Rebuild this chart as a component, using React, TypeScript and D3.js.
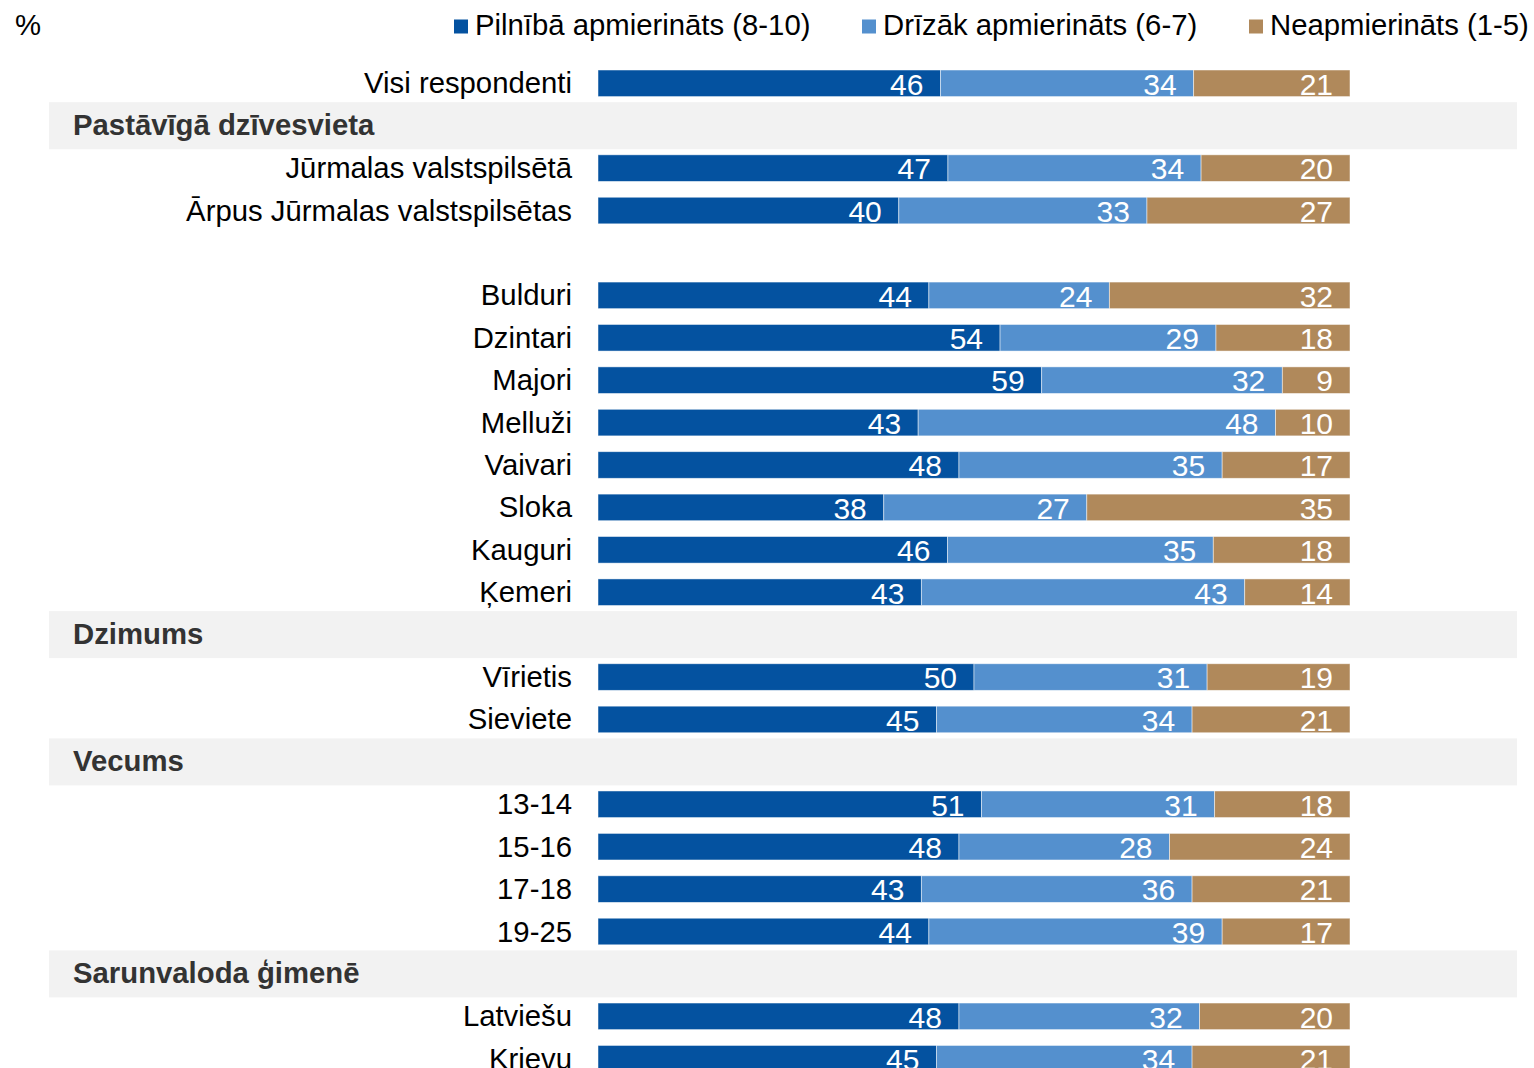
import React from "react";
import * as d3 from "d3";

const rowLabels = [
  "Visi respondenti",
  "Pastāvīgā dzīvesvieta",
  "Jūrmalas valstspilsētā",
  "Ārpus Jūrmalas valstspilsētas",
  "",
  "Bulduri",
  "Dzintari",
  "Majori",
  "Melluži",
  "Vaivari",
  "Sloka",
  "Kauguri",
  "Ķemeri",
  "Dzimums",
  "Vīrietis",
  "Sieviete",
  "Vecums",
  "13-14",
  "15-16",
  "17-18",
  "19-25",
  "Sarunvaloda ģimenē",
  "Latviešu",
  "Krievu",
];

const rowKinds = [
  "bar", "header", "bar", "bar", "blank", "bar", "bar", "bar", "bar", "bar", "bar", "bar", "bar",
  "header", "bar", "bar", "header", "bar", "bar", "bar", "bar", "header", "bar", "bar",
];

const fullySatisfied = [46, null, 47, 40, null, 44, 54, 59, 43, 48, 38, 46, 43, null, 50, 45, null, 51, 48, 43, 44, null, 48, 45];
const ratherSatisfied = [34, null, 34, 33, null, 24, 29, 32, 48, 35, 27, 35, 43, null, 31, 34, null, 31, 28, 36, 39, null, 32, 34];
const dissatisfied = [21, null, 20, 27, null, 32, 18, 9, 10, 17, 35, 18, 14, null, 19, 21, null, 18, 24, 21, 17, null, 20, 21];

const seriesNames = ["Pilnībā apmierināts (8-10)", "Drīzāk apmierināts (6-7)", "Neapmierināts (1-5)"];
const seriesColors = ["#0452A0", "#5490CE", "#B0895B"];

const FONT = "'Liberation Sans', Arial, Helvetica, sans-serif";
const FS = 29.3;

export default function App() {
  const width = 1534;
  const height = 1068;

  const y = d3
    .scaleBand<number>()
    .domain(d3.range(rowLabels.length))
    .range([62.1, 62.1 + 24 * 42.41])
    .paddingInner(0.373)
    .paddingOuter(0.1865);

  const x = d3.scaleLinear().domain([0, 1]).range([598, 1350]);

  const series = [fullySatisfied, ratherSatisfied, dissatisfied];
  const legendX = [454, 862, 1249];

  return (
    <svg
      width={width}
      height={height}
      style={{ position: "absolute", left: 0, top: 0, background: "#fff" }}
      fontFamily={FONT}
    >
      <text x={15} y={35} fontSize={FS} fill="#000">%</text>
      {seriesNames.map((name, i) => (
        <g key={name}>
          <rect x={legendX[i]} y={19.5} width={14} height={14} fill={seriesColors[i]} />
          <text x={legendX[i] + 21} y={35} fontSize={FS} fill="#000">{name}</text>
        </g>
      ))}
      {rowLabels.map((label, i) => {
        const kind = rowKinds[i];
        const top = y(i)!;
        const bw = y.bandwidth();
        const cy = top + bw / 2;
        if (kind === "header") {
          return (
            <g key={i}>
              <rect x={49} y={cy - 23.5} width={1517 - 49} height={47} fill="#F2F2F2" />
              <text x={73} y={cy + 9.5} fontSize={FS} fontWeight="bold" fill="#333">{label}</text>
            </g>
          );
        }
        if (kind === "blank") return null;
        const vals = series.map((s) => s[i] as number);
        const total = d3.sum(vals);
        let acc = 0;
        const segs = vals.map((v, k) => {
          const x0 = x(acc / total);
          acc += v;
          const x1 = x(acc / total);
          return { x0, x1, v, k };
        });
        return (
          <g key={i}>
            <text x={572} y={cy + 10} fontSize={FS} textAnchor="end" fill="#000">{label}</text>
            {segs.map((s) => (
              <rect
                key={s.k}
                x={s.x0}
                y={top}
                width={s.x1 - s.x0}
                height={bw}
                fill={seriesColors[s.k]}
                stroke="#fff"
                strokeOpacity={0.6}
                strokeWidth={0.8}
              />
            ))}
            {segs.map((s) => (
              <text
                key={"t" + s.k}
                x={s.x1 - 17}
                y={top + bw - 2}
                fontSize={30}
                textAnchor="end"
                fill="#fff"
              >
                {s.v}
              </text>
            ))}
          </g>
        );
      })}
    </svg>
  );
}
